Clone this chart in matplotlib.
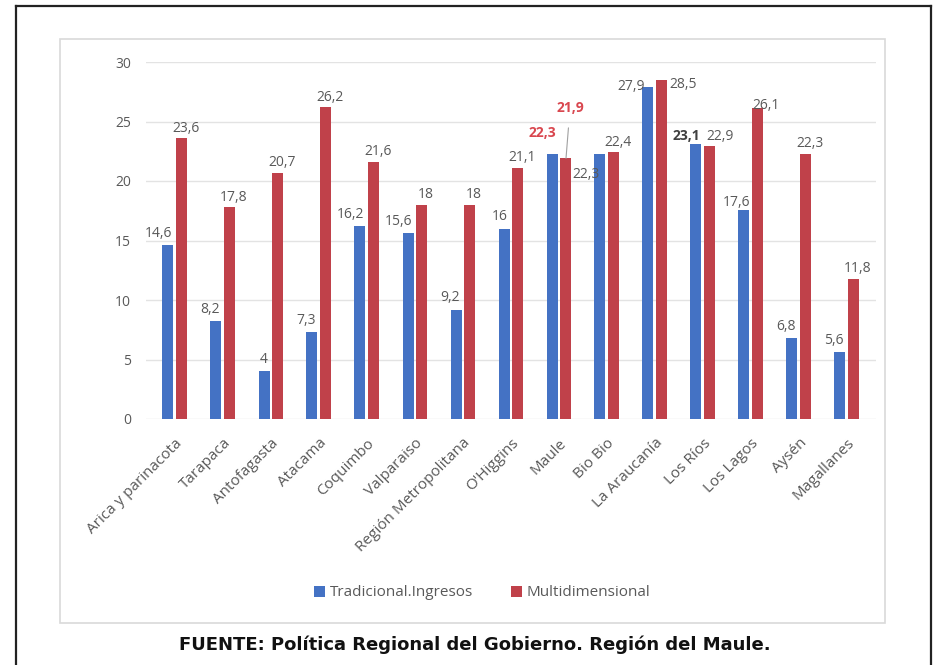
import matplotlib
matplotlib.use("Agg")
import matplotlib.pyplot as plt
from matplotlib.patches import Rectangle
from matplotlib.lines import Line2D
import numpy as np

regions = ["Arica y parinacota", "Tarapaca", "Antofagasta", "Atacama", "Coquimbo",
           "Valparaiso", "Región Metropolitana", "O'Higgins", "Maule", "Bio Bio",
           "La Araucanía", "Los Ríos", "Los Lagos", "Aysén", "Magallanes"]
tradicional = [14.6, 8.2, 4, 7.3, 16.2, 15.6, 9.2, 16, 22.3, 22.3, 27.9, 23.1, 17.6, 6.8, 5.6]
multidim = [23.6, 17.8, 20.7, 26.2, 21.6, 18, 18, 21.1, 21.9, 22.4, 28.5, 22.9, 26.1, 22.3, 11.8]
series_names = ["Tradicional.Ingresos", "Multidimensional"]
yticks = [0, 5, 10, 15, 20, 25, 30]
caption = "FUENTE: Política Regional del Gobierno. Región del Maule."

W, H = 934, 665
BLUE = "#4472C4"
RED = "#C0414A"
GRAY = "#595959"
HL = "#D9474F"
FS = 10

plt.rcParams['font.family'] = ['Open Sans', 'DejaVu Sans']

fig = plt.figure(figsize=(W / 100, H / 100), dpi=100)

def fx(px):
    return px / W

def fy(py):
    return 1 - py / H

# outer black box
for (x0, y0, x1, y1) in [(16, 6, 931, 6), (16, 6, 16, 670), (931, 6, 931, 670)]:
    fig.add_artist(Line2D([fx(x0), fx(x1)], [fy(y0), fy(y1)], color="#222222", lw=1.6,
                          transform=fig.transFigure))
# chart panel
fig.add_artist(Rectangle((fx(60), fy(623)), fx(885) - fx(60), fy(39) - fy(623),
                         transform=fig.transFigure, fill=False, ec="#D9D9D9", lw=1.2))

# axes: group centers at 175 + 48*i px, y: 0 at 419, 30 at 62
gpx = 48.0
xl0, xl1 = -0.6, 14.6
left_px = 175 - (0 - xl0) * gpx
ax = fig.add_axes([fx(left_px), fy(419), (xl1 - xl0) * gpx / W, (419 - 62) / H])
ax.set_xlim(xl0, xl1)
ax.set_ylim(0, 30)

x = np.arange(len(regions))
off = 7 / gpx
bw = 11 / gpx
b1 = ax.bar(x - off, tradicional, bw, color=BLUE, label=series_names[0], zorder=3)
b2 = ax.bar(x + off, multidim, bw, color=RED, label=series_names[1], zorder=3)

ax.set_yticks(yticks)
ax.set_yticklabels([str(t) for t in yticks], color=GRAY, fontsize=FS)
ax.yaxis.grid(True, color="#E3E3E3", lw=1, zorder=0)
ax.tick_params(axis='y', length=0, pad=11)
ax.tick_params(axis='x', length=0, pad=12)
for s in ax.spines.values():
    s.set_visible(False)
ax.set_xticks(x)
ax.set_xticklabels(regions, rotation=45, ha='right', rotation_mode='anchor',
                   color=GRAY, fontsize=11)

def fmt(v):
    return ("%g" % v).replace(".", ",")

# label offsets (pixels, label center relative to bar top center)
blue_special = {8: (-10, 21, HL, 'bold'), 9: (-14, -21, GRAY, 'normal'),
                10: (-17, 0, GRAY, 'normal'), 11: (-10, 8, "#404040", 'bold'),
                12: (-7, 7, GRAY, 'normal')}
red_special = {8: (4, 50, HL, 'bold'), 10: (21, -5, GRAY, 'normal'),
               11: (10, 10, GRAY, 'normal'), 12: (8, 3, GRAY, 'normal')}

for i, v in enumerate(tradicional):
    if i in blue_special:
        dx, dy, c, wgt = blue_special[i]
        ax.annotate(fmt(v), (x[i] - off, v), xytext=(dx, dy), textcoords='offset pixels',
                    ha='center', va='center', color=c, fontweight=wgt, fontsize=FS, zorder=5)
    else:
        ax.annotate(fmt(v), (x[i] - off, v), xytext=(4, 12), textcoords='offset pixels',
                    ha='right', va='center', color=GRAY, fontsize=FS, zorder=5)

for i, v in enumerate(multidim):
    if i in red_special:
        dx, dy, c, wgt = red_special[i]
        kw = {}
        if i == 8:
            kw = dict(arrowprops=dict(arrowstyle='-', color="#A0A0A0", lw=0.8,
                                      shrinkA=7, shrinkB=0))
        ax.annotate(fmt(v), (x[i] + off, v), xytext=(dx, dy), textcoords='offset pixels',
                    ha='center', va='center', color=c, fontweight=wgt, fontsize=FS, zorder=5, **kw)
    else:
        ax.annotate(fmt(v), (x[i] + off, v), xytext=(4, 10), textcoords='offset pixels',
                    ha='center', va='center', color=GRAY, fontsize=FS, zorder=5)

leg = fig.legend(handles=[b1, b2], loc='center', bbox_to_anchor=(fx(482), fy(593)),
                 ncol=2, frameon=False, fontsize=11, handlelength=0.7, handleheight=0.7,
                 handletextpad=0.3, columnspacing=2.5)
for t in leg.get_texts():
    t.set_color(GRAY)

fig.text(fx(475), fy(645), caption, ha='center', va='center', fontsize=13,
         fontweight='bold', family=['DejaVu Sans'], color="#111111")

fig.savefig("out.png", dpi=100)
